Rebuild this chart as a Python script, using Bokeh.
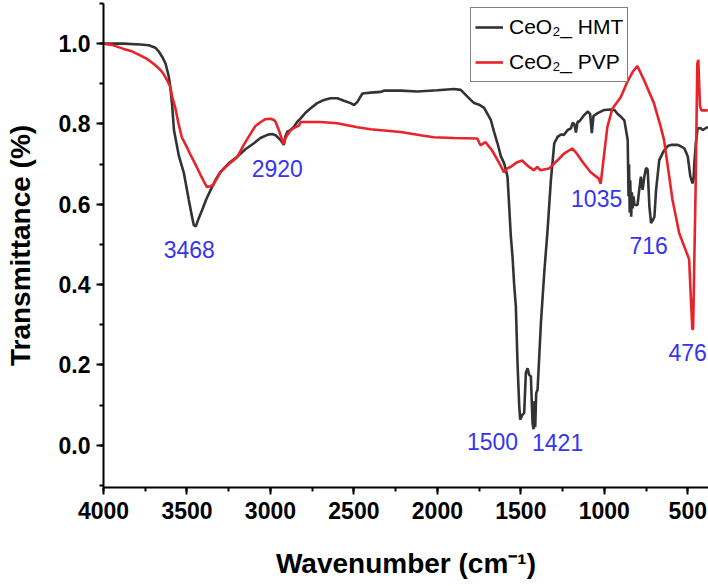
from bokeh.plotting import figure
from bokeh.models import (Range1d, SingleIntervalTicker, PrintfTickFormatter,
                          Legend, LegendItem, ColumnDataSource)
from bokeh.core.properties import value
from bokeh.embed import file_html
from bokeh.resources import INLINE

# ---------------- data ----------------
hmt_x = [4000, 3880, 3780, 3728, 3690, 3668, 3645, 3628, 3610, 3599, 3588, 3578,
         3548, 3518, 3489, 3470, 3459, 3447, 3430, 3409, 3385, 3358, 3330, 3299,
         3250, 3198, 3150, 3099, 3060, 3018, 2990, 2969, 2939, 2920, 2910, 2898,
         2880, 2859, 2840, 2819, 2790, 2759, 2720, 2679, 2640, 2599, 2560, 2520,
         2499, 2479, 2449, 2400, 2339, 2320, 2219, 2120, 2000, 1900, 1860, 1820,
         1780, 1750, 1720, 1700, 1680, 1660, 1640, 1620, 1600, 1580, 1571, 1560,
         1550, 1540, 1530, 1520, 1510, 1504, 1492, 1480, 1470, 1460, 1450, 1440,
         1430, 1424, 1418, 1414, 1408, 1400, 1390, 1380, 1360, 1340, 1320, 1300,
         1280, 1260, 1241, 1220, 1200, 1190, 1180, 1170, 1160, 1150, 1125, 1100,
         1085, 1075, 1065, 1040, 1000, 960, 940, 920, 900, 880, 860, 855, 852,
         848, 845, 839, 835, 830, 825, 820, 810, 801, 791, 781, 771, 760, 751,
         745, 740, 730, 720, 710, 700, 690, 671, 650, 640, 620, 600, 580, 560,
         540, 520, 500, 485, 472, 465, 461, 452, 441, 425, 410, 380]
hmt_y = [1.000, 1.000, 0.998, 0.996, 0.990, 0.980, 0.965, 0.950, 0.920, 0.890, 0.843, 0.785,
         0.720, 0.677, 0.611, 0.570, 0.548, 0.545, 0.565, 0.586, 0.612, 0.636, 0.660, 0.681,
         0.702, 0.719, 0.737, 0.752, 0.765, 0.773, 0.775, 0.772, 0.760, 0.748, 0.770, 0.781,
         0.785, 0.793, 0.805, 0.814, 0.828, 0.839, 0.852, 0.860, 0.864, 0.864, 0.858, 0.852,
         0.847, 0.855, 0.876, 0.878, 0.880, 0.883, 0.883, 0.881, 0.884, 0.887, 0.885, 0.868,
         0.852, 0.848, 0.840, 0.825, 0.810, 0.780, 0.752, 0.720, 0.702, 0.669, 0.603, 0.520,
         0.470, 0.400, 0.346, 0.205, 0.100, 0.064, 0.075, 0.081, 0.180, 0.192, 0.175, 0.172,
         0.055, 0.040, 0.110, 0.045, 0.130, 0.138, 0.220, 0.304, 0.429, 0.536, 0.661, 0.752,
         0.768, 0.774, 0.773, 0.785, 0.789, 0.803, 0.800, 0.779, 0.806, 0.806, 0.820, 0.831,
         0.825, 0.777, 0.820, 0.827, 0.835, 0.836, 0.835, 0.825, 0.818, 0.809, 0.760, 0.620, 0.700,
         0.580, 0.660, 0.569, 0.630, 0.590, 0.620, 0.600, 0.598, 0.599, 0.636, 0.669, 0.636, 0.670, 0.689,
         0.690, 0.685, 0.594, 0.553, 0.560, 0.569, 0.636, 0.710, 0.728, 0.735, 0.745, 0.748, 0.748, 0.748,
         0.744, 0.739, 0.719, 0.670, 0.652, 0.665, 0.700, 0.752, 0.789, 0.790, 0.785, 0.793]

pvp_x = [4000, 3950, 3879, 3830, 3780, 3740, 3700, 3660, 3641, 3620, 3599, 3590,
         3571, 3550, 3531, 3500, 3482, 3450, 3422, 3400, 3380, 3362, 3343, 3320,
         3299, 3250, 3198, 3160, 3119, 3090, 3058, 3030, 2999, 2980, 2969, 2950,
         2929, 2920, 2910, 2900, 2880, 2860, 2829, 2819, 2700, 2600, 2479, 2400,
         2221, 2100, 2022, 1900, 1761, 1742, 1712, 1672, 1622, 1602, 1580, 1562,
         1522, 1492, 1462, 1440, 1422, 1402, 1382, 1332, 1282, 1242, 1192, 1172,
         1122, 1082, 1033, 1022, 1003, 982, 952, 901, 862, 830, 802, 763, 703,
         663, 642, 592, 552, 492, 483, 473, 468, 453, 443, 437, 427, 418, 380]
pvp_y = [1.000, 0.997, 0.987, 0.981, 0.971, 0.962, 0.950, 0.935, 0.925, 0.910, 0.892, 0.870,
         0.842, 0.800, 0.767, 0.742, 0.726, 0.700, 0.676, 0.658, 0.643, 0.645, 0.648, 0.665,
         0.680, 0.700, 0.718, 0.748, 0.776, 0.795, 0.805, 0.812, 0.813, 0.810, 0.805, 0.785,
         0.759, 0.750, 0.765, 0.772, 0.784, 0.790, 0.796, 0.805, 0.805, 0.802, 0.792, 0.787,
         0.780, 0.772, 0.767, 0.765, 0.764, 0.747, 0.755, 0.734, 0.697, 0.680, 0.690, 0.693,
         0.705, 0.709, 0.697, 0.690, 0.685, 0.693, 0.685, 0.689, 0.709, 0.726, 0.739, 0.730,
         0.701, 0.680, 0.664, 0.651, 0.718, 0.792, 0.838, 0.867, 0.905, 0.930, 0.944, 0.910, 0.852,
         0.794, 0.760, 0.612, 0.529, 0.463, 0.380, 0.289, 0.290, 0.645, 0.950, 0.960, 0.844, 0.834, 0.834]

peak_labels = ["3468", "2920", "1500", "1421", "1035", "716", "476"]
label_x = [3486, 2959, 1670, 1280, 1046, 735, 501]
label_y = [0.488, 0.690, 0.010, 0.008, 0.615, 0.498, 0.232]

series_names = ["CeO\u2082_ HMT", "CeO\u2082_ PVP"]
x_ticks_interval = 500
y_ticks_interval = 0.2

# ---------------- figure ----------------
FONT = "Liberation Sans"
p = figure(width=708, height=586,
           x_range=Range1d(4000, 376), y_range=Range1d(-0.105, 1.1),
           output_backend="svg", toolbar_location=None,
           min_border_left=103, min_border_right=0, min_border_top=3,
           min_border_bottom=99)
p.xgrid.visible = False
p.ygrid.visible = False
p.outline_line_color = None
p.background_fill_color = "white"
p.border_fill_color = "white"

r_hmt = p.line(hmt_x, hmt_y, line_color="#333333", line_width=2.6)
r_pvp = p.line(pvp_x, pvp_y, line_color="#e8232a", line_width=2.6)

src = ColumnDataSource(dict(x=label_x, y=label_y, t=peak_labels))
p.text(x="x", y="y", text="t", source=src, text_font=value(FONT),
       text_font_size="23px", text_color="#3535f0",
       text_align="center", text_baseline="middle")

p.xaxis.ticker = SingleIntervalTicker(interval=x_ticks_interval, num_minor_ticks=2)
p.yaxis.ticker = SingleIntervalTicker(interval=y_ticks_interval, num_minor_ticks=2)
p.xaxis.formatter = PrintfTickFormatter(format="%d")
p.yaxis.formatter = PrintfTickFormatter(format="%.1f")

for ax in (p.xaxis[0], p.yaxis[0]):
    ax.axis_line_width = 2
    ax.axis_line_color = "black"
    ax.major_tick_line_width = 2
    ax.minor_tick_line_width = 2
    ax.major_tick_out = 7
    ax.major_tick_in = 0
    ax.minor_tick_out = 4
    ax.minor_tick_in = 0
    ax.major_label_text_font = FONT
    ax.major_label_text_font_style = "bold"
    ax.major_label_text_font_size = "23px"
    ax.major_label_text_color = "black"
    ax.axis_label_text_font = FONT
    ax.axis_label_text_font_style = "bold"
    ax.axis_label_text_font_size = "28px"
    ax.axis_label_text_color = "black"

p.xaxis.axis_label = "Wavenumber (cm\u207b\u00b9)"
p.yaxis.axis_label = "Transmittance (%)"
p.xaxis.major_label_standoff = 7
p.yaxis.major_label_standoff = 6
p.xaxis.axis_label_standoff = 26
p.yaxis.axis_label_standoff = 20

legend = Legend(items=[LegendItem(label=series_names[0], renderers=[r_hmt]),
                       LegendItem(label=series_names[1], renderers=[r_pvp])],
                location=(367, 405))
legend.label_text_font = FONT
legend.label_text_font_size = "21px"
legend.label_text_color = "black"
legend.border_line_color = "black"
legend.border_line_width = 1.5
legend.background_fill_alpha = 1.0
legend.glyph_width = 28
legend.glyph_height = 30
legend.label_height = 30
legend.label_standoff = 6
legend.spacing = 5
legend.padding = 4
legend.margin = 0
p.add_layout(legend)

open("out.html", "w").write(file_html(p, INLINE))
